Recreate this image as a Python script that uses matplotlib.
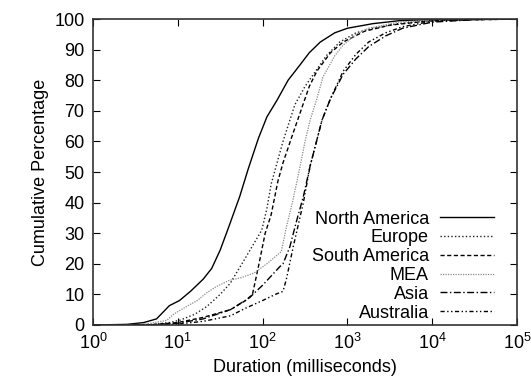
import numpy as np
import matplotlib
matplotlib.use("Agg")
import matplotlib.pyplot as plt

plt.rcParams['font.family'] = ['Liberation Sans', 'DejaVu Sans']
plt.rcParams['mathtext.default'] = 'regular'

na_lx = [0, 0.4, 0.6, 0.75, 0.82, 0.9, 1.02, 1.15, 1.3, 1.4, 1.5, 1.6, 1.73, 1.83, 1.95, 2.05, 2.17, 2.3, 2.44, 2.55, 2.68, 2.85, 3.0, 3.3, 3.62, 4.0, 5.0]
na_y = [0, 0.2, 0.8, 2, 4, 6.3, 8, 11, 15, 18.5, 24.5, 32, 42, 51, 61, 68, 73.5, 80, 85, 89, 92.5, 95.5, 97, 98.5, 99.5, 99.8, 100]

eu_lx = [0, 0.7, 0.9, 1.03, 1.2, 1.34, 1.5, 1.62, 1.82, 1.99, 2.05, 2.1, 2.17, 2.24, 2.38, 2.5, 2.6, 2.75, 2.91, 3.1, 3.3, 3.6, 4.0, 4.5, 5.0]
eu_y = [0, 0.2, 0.8, 1.6, 3.5, 6, 10, 13.7, 23, 31, 38, 46, 53, 60, 72, 78, 82, 88, 92.5, 95.5, 97, 98.5, 99.5, 99.9, 100]

sa_lx = [0, 0.7, 1.0, 1.3, 1.62, 1.8, 1.88, 1.95, 2.03, 2.1, 2.18, 2.24, 2.35, 2.45, 2.55, 2.64, 2.8, 2.95, 3.2, 3.5, 4.0, 5.0]
sa_y = [0, 0.1, 0.8, 2.5, 5, 8, 10, 19, 30, 36, 47, 53, 62, 70, 78, 83, 89, 92.5, 96, 98, 99.5, 100]

mea_lx = [0, 0.6, 0.87, 0.95, 1.1, 1.23, 1.34, 1.45, 1.6, 1.75, 1.9, 2.05, 2.22, 2.28, 2.35, 2.42, 2.5, 2.56, 2.64, 2.71, 2.85, 2.95, 3.1, 3.25, 3.6, 4.0, 5.0]
mea_y = [0, 0.2, 1.5, 3.5, 6, 8, 10.5, 12.5, 14.5, 15.5, 17, 20, 24, 32, 40, 49, 60, 67, 74, 81, 88, 91.5, 95, 97, 99, 99.7, 100]

asia_lx = [0, 0.7, 1.0, 1.3, 1.62, 1.85, 1.9, 2.0, 2.1, 2.2, 2.24, 2.32, 2.4, 2.48, 2.56, 2.7, 2.8, 2.95, 3.1, 3.25, 3.45, 3.65, 4.0, 4.5, 5.0]
asia_y = [0, 0.1, 0.6, 2, 5, 9, 10.4, 13, 16, 19, 20, 25.5, 34, 42, 52, 67, 74, 82, 87, 91, 94.5, 97, 99, 99.8, 100]

aus_lx = [0, 0.8, 1.0, 1.3, 1.62, 1.8, 2.0, 2.15, 2.24, 2.28, 2.36, 2.48, 2.56, 2.7, 2.8, 2.95, 3.1, 3.25, 3.45, 3.65, 4.0, 4.5, 5.0]
aus_y = [0, 0.1, 0.3, 1.2, 3, 5.5, 8, 10, 11, 15, 25.5, 40, 52, 67, 74, 83, 88.5, 92.5, 95.5, 97.5, 99.3, 99.9, 100]

series = [
    ("North America", na_lx, na_y, 'black', '-', 1.0),
    ("Europe", eu_lx, eu_y, '#222222', (0, (1, 1.6)), 1.0),
    ("South America", sa_lx, sa_y, 'black', (0, (3, 1.8)), 1.0),
    ("MEA", mea_lx, mea_y, '#8a8a8a', (0, (1, 1)), 0.9),
    ("Asia", asia_lx, asia_y, 'black', (0, (5, 1.8, 1, 1.8)), 1.0),
    ("Australia", aus_lx, aus_y, 'black', (0, (3, 1.8, 1, 1.8, 1, 1.8)), 1.0),
]

fig = plt.figure(figsize=(5.31, 3.81), dpi=100)
ax = fig.add_axes([0.175, 0.147, 0.799, 0.803])

for name, lx, y, c, ls, lw in series:
    ax.plot(np.power(10.0, lx), y, color=c, linestyle=ls, linewidth=lw, label=name)

ax.set_xscale('log')
ax.set_xlim(1, 1e5)
ax.set_ylim(0, 100)
ax.set_yticks(range(0, 101, 10))
ax.set_xticks([1, 10, 100, 1000, 10000, 100000])
ax.minorticks_off()
ax.tick_params(direction='in', length=5, width=0.8, top=True, right=True, labelsize=13, pad=6)
for s in ax.spines.values():
    s.set_linewidth(1.2)
    s.set_color('#333333')

ax.set_xlabel("Duration (milliseconds)", fontsize=13)
ax.set_ylabel("Cumulative Percentage", fontsize=13)

ax.legend(loc='lower right', bbox_to_anchor=(0.975, -0.03), frameon=False, markerfirst=False,
          fontsize=13, handlelength=3, handletextpad=0.6, labelspacing=0.1, borderpad=0.2)

fig.savefig("out.png", dpi=100)
